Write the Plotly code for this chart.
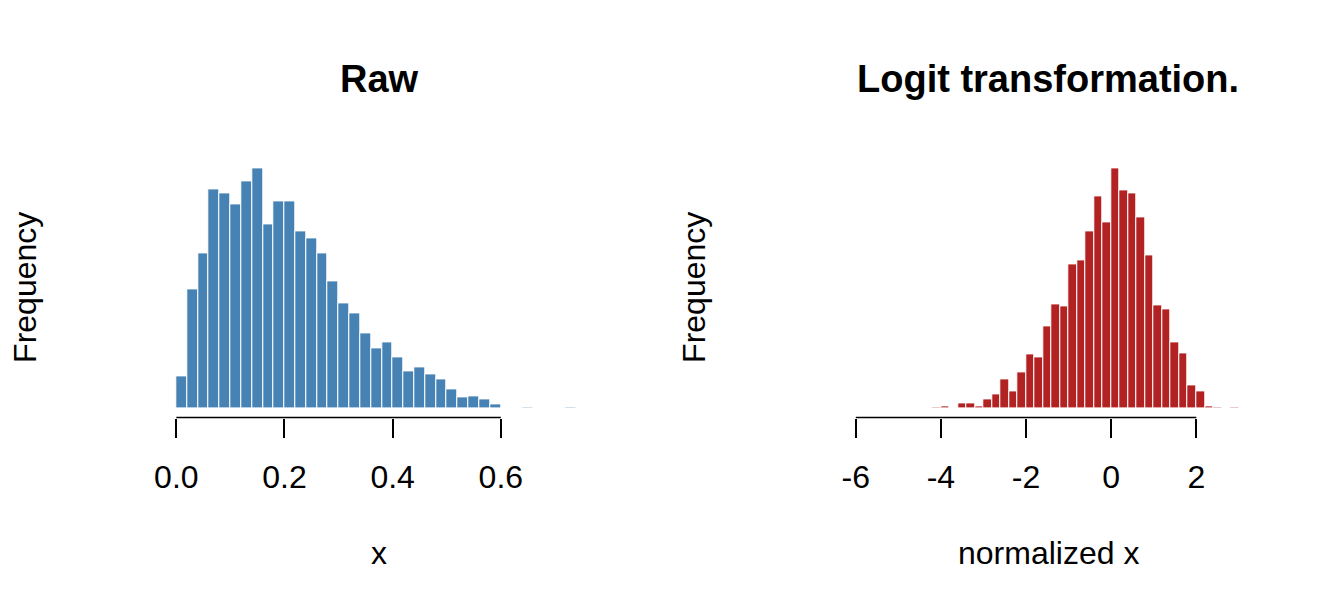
import numpy as np
import plotly.graph_objects as go

# --- DATA ---
# Raw: histogram with bins of width 0.02 starting at 0.0
raw_bin_start = 0.0
raw_bin_width = 0.02
raw_counts = [31, 118, 154, 218, 214, 203, 226, 239, 183, 206,
              206, 176, 169, 154, 126, 104, 94, 74, 59, 65,
              50, 36, 40, 33, 28, 18, 10, 11, 8, 3,
              0, 0, 1, 0, 0, 0, 1]
raw_ticks = [0.0, 0.2, 0.4, 0.6]
raw_ticktext = ["0.0", "0.2", "0.4", "0.6"]

# Logit: bins of width 0.2 starting at -4.2
logit_bin_start = -4.2
logit_bin_width = 0.2
logit_counts = [1, 2, 0, 4, 4, 2, 8, 13, 28, 16,
                35, 53, 50, 81, 103, 101, 143, 147, 176, 211,
                185, 239, 217, 214, 190, 152, 102, 98, 65, 54,
                22, 16, 2, 1, 0, 1]
logit_ticks = [-6, -4, -2, 0, 2]
logit_ticktext = ["-6", "-4", "-2", "0", "2"]

titles = ["Raw", "Logit transformation."]
xlabels = ["x", "normalized x"]
ylabel = "Frequency"

FONT = "Liberation Sans, Arial, sans-serif"
W, H = 1344, 614

# plot regions (pixels) like R's par(mfrow=c(1,2))
left_px = [(155.0, 589.2), (829.0, 1263.0)]
top_px, bot_px = 158.4, 417.5
ydom = [(H - bot_px) / H, (H - top_px) / H]


def centers(start, width, n):
    return [start + width * (i + 0.5) for i in range(n)]


fig = go.Figure()

fig.add_trace(go.Bar(
    x=centers(raw_bin_start, raw_bin_width, len(raw_counts)), y=raw_counts,
    width=raw_bin_width, marker=dict(color="#4682B4", line=dict(color="white", width=1)),
    xaxis="x", yaxis="y", showlegend=False))

fig.add_trace(go.Bar(
    x=centers(logit_bin_start, logit_bin_width, len(logit_counts)), y=logit_counts,
    width=logit_bin_width, marker=dict(color="#B22222", line=dict(color="white", width=1)),
    xaxis="x2", yaxis="y2", showlegend=False))

# x ranges: data range padded by 4% (R style)
raw_lo, raw_hi = raw_bin_start, raw_bin_start + raw_bin_width * len(raw_counts)
pad = 0.04 * (raw_hi - raw_lo)
raw_range = [raw_lo - pad, raw_hi + pad]
logit_lim = [-6.2, 3.2]
pad2 = 0.04 * (logit_lim[1] - logit_lim[0])
logit_range = [logit_lim[0] - pad2, logit_lim[1] + pad2]


def y_range(counts):
    m = max(counts)
    return [-0.04 * m, 1.04 * m]


xaxis_common = dict(showgrid=False, zeroline=False, showline=False, ticks="outside",
                    ticklen=19, tickwidth=1.5, tickcolor="black",
                    tickfont=dict(family=FONT, size=32, color="black"),
                    ticklabelstandoff=12, fixedrange=True)
yaxis_common = dict(showgrid=False, zeroline=False, showline=False, showticklabels=False,
                    ticks="", domain=ydom, fixedrange=True)

fig.update_layout(
    width=W, height=H,
    margin=dict(l=0, r=0, t=0, b=0),
    paper_bgcolor="white", plot_bgcolor="white",
    bargap=0,
    xaxis=dict(domain=[left_px[0][0] / W, left_px[0][1] / W], range=raw_range,
               tickvals=raw_ticks, ticktext=raw_ticktext, anchor="y", **xaxis_common),
    yaxis=dict(range=y_range(raw_counts), anchor="x", **yaxis_common),
    xaxis2=dict(domain=[left_px[1][0] / W, left_px[1][1] / W], range=logit_range,
                tickvals=logit_ticks, ticktext=logit_ticktext, anchor="y2", **xaxis_common),
    yaxis2=dict(range=y_range(logit_counts), anchor="x2", **yaxis_common),
)

# axis lines only between first and last tick (R axis style)
for xref, tv in [("x", raw_ticks), ("x2", logit_ticks)]:
    fig.add_shape(type="line", xref=xref, yref="paper", x0=tv[0], x1=tv[-1],
                  y0=ydom[0], y1=ydom[0], line=dict(color="black", width=1.5))

# titles and axis labels
title_cx = [375, 1046.7]
for i in range(2):
    cx = title_cx[i] / W
    fig.add_annotation(text=f"<b>{titles[i]}</b>", x=cx, y=(H - 79) / H, xref="paper", yref="paper",
                       showarrow=False, xanchor="center", yanchor="middle",
                       font=dict(family=FONT, size=38, color="black"))
    fig.add_annotation(text=xlabels[i], x=cx, y=(H - 553) / H, xref="paper", yref="paper",
                       showarrow=False, xanchor="center", yanchor="middle",
                       font=dict(family=FONT, size=32, color="black"))
    fig.add_annotation(text=ylabel, x=(i * 672 + 19) / W, y=(H - 287) / H, xref="paper", yref="paper",
                       showarrow=False, xanchor="center", yanchor="middle", textangle=-90,
                       font=dict(family=FONT, size=32, color="black"))

# no page margin so the figure sits at the window's corner
fig.write_html("out.html", config={"displayModeBar": False},
               post_script="document.body.style.margin='0';")
